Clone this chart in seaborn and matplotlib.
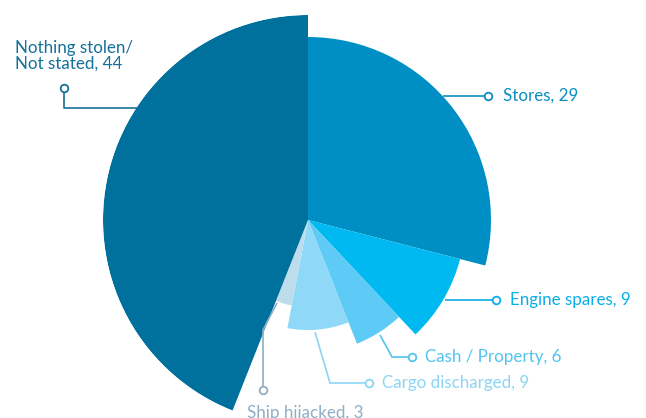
import numpy as np
import matplotlib
matplotlib.use("Agg")
import matplotlib.pyplot as plt
import seaborn as sns

# Piracy incidents by what was stolen (share, %)
categories = ["Stores", "Engine spares", "Cash / Property",
              "Cargo discharged", "Ship hijacked", "Nothing stolen/\nNot stated"]
values = [29, 9, 6, 9, 3, 44]

sns.set_theme(style="white")
plt.rcParams["font.family"] = ["Lato", "DejaVu Sans"]

slice_colors = ["#008FC5", "#00B9F0", "#5DCBF5", "#90D8F8", "#BEDDEC", "#00709C"]
label_colors = ["#0A8FC4", "#0AAEE8", "#52C4F0", "#8DD5F5", "#8FAEC4", "#15709A"]
radii = [183, 157, 133, 110, 87, 205]   # slice radius in px, stepping down clockwise

W, H = 646, 418
DPI = 100
fig = plt.figure(figsize=(W / DPI, H / DPI), dpi=DPI)

cx, cy, R = 308, 220, 205
pax = fig.add_axes([(cx - R) / W, (H - cy - R) / H, 2 * R / W, 2 * R / H],
                   projection="polar")
pax.set_theta_zero_location("N")
pax.set_theta_direction(-1)
total = float(sum(values))
widths = np.array(values) / total * 2 * np.pi
starts = np.concatenate([[0], np.cumsum(widths)[:-1]])
pax.bar(starts, radii, width=widths, align="edge", color=slice_colors,
        edgecolor="none", linewidth=0)
pax.set_ylim(0, R)
pax.set_axis_off()

# overlay in pixel coordinates for the leader lines and labels
ox = fig.add_axes([0, 0, 1, 1])
ox.set_xlim(0, W)
ox.set_ylim(H, 0)
ox.set_axis_off()
ox.patch.set_alpha(0)

fs = 17 * 72 / DPI

leaders = [
    [(443, 96), (488, 96)],
    [(445, 300), (496, 300)],
    [(380, 335), (392, 357), (412, 357)],
    [(315, 332), (330, 383), (369, 383)],
    [(277, 303), (263, 330), (263, 390)],
    [(138, 108), (64, 108), (64, 88)],
]
text_pos = [
    (503, 96, "left", "center"),
    (510, 300, "left", "center"),
    (425, 357, "left", "center"),
    (382, 383, "left", "center"),
    (305, 413, "center", "center"),
    (15, 56, "left", "center"),
]

for cat, val, col, pts, (tx, ty, ha, va) in zip(categories, values, label_colors,
                                                leaders, text_pos):
    xs, ys = zip(*pts)
    ox.plot(xs, ys, color=col, lw=1.2, solid_capstyle="butt", zorder=2)
    ox.plot(xs[-1], ys[-1], "o", ms=5.5, mfc="white", mec=col, mew=1.3, zorder=3)
    ox.text(tx, ty, f"{cat}, {val}", color=col, fontsize=fs, ha=ha, va=va,
            linespacing=1.0)

fig.savefig("out.png", dpi=DPI)
